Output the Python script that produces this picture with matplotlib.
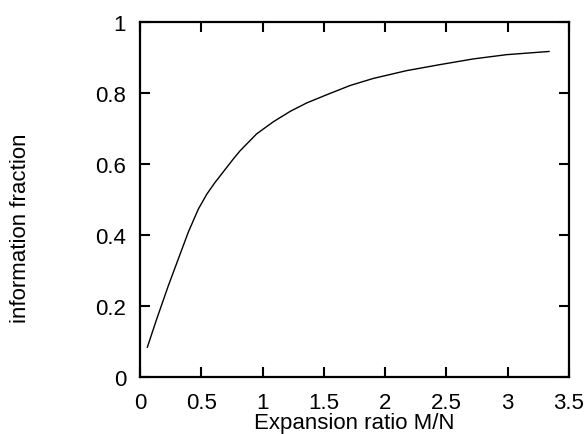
import numpy as np
import matplotlib.pyplot as plt

plt.rcParams['font.family'] = ['Liberation Sans', 'DejaVu Sans']

# expansion ratio M/N and the fraction of information retained
ratio = [0.06, 0.136, 0.231, 0.312, 0.394, 0.476, 0.545, 0.612, 0.761, 0.816,
         0.952, 1.088, 1.224, 1.360, 1.523, 1.713, 1.903, 2.175, 2.448, 2.719,
         2.991, 3.337]
info_frac = [0.084, 0.163, 0.257, 0.332, 0.408, 0.473, 0.515, 0.548, 0.614, 0.637,
             0.685, 0.719, 0.748, 0.772, 0.795, 0.821, 0.841, 0.863, 0.880, 0.896,
             0.908, 0.917]

x_ticks = [0, 0.5, 1, 1.5, 2, 2.5, 3, 3.5]
x_tick_labels = ['0', '0.5', '1', '1.5', '2', '2.5', '3', '3.5']
y_ticks = [0, 0.2, 0.4, 0.6, 0.8, 1]
y_tick_labels = ['0', '0.2', '0.4', '0.6', '0.8', '1']

fig = plt.figure(figsize=(5.88, 4.35), dpi=100)
ax = fig.add_axes((140 / 588, 57 / 435, 429 / 588, 355 / 435))

ax.plot(ratio, info_frac, color='black', linewidth=1.0)

ax.set_xlim(0, 3.5)
ax.set_ylim(0, 1)
ax.set_xticks(x_ticks)
ax.set_xticklabels(x_tick_labels)
ax.set_yticks(y_ticks)
ax.set_yticklabels(y_tick_labels)

for s in ax.spines.values():
    s.set_linewidth(1.6)
ax.tick_params(direction='in', length=7, width=1.5, labelsize=16,
               top=True, right=True)
ax.tick_params(axis='x', pad=11)
ax.tick_params(axis='y', pad=10)

fig.text(354 / 588, 1 / 435, 'Expansion ratio M/N', fontsize=16,
         ha='center', va='bottom')
fig.text(20 / 588, 207 / 435, 'information fraction', fontsize=16,
         rotation=90, ha='center', va='center')

fig.savefig('out.png', dpi=100)
